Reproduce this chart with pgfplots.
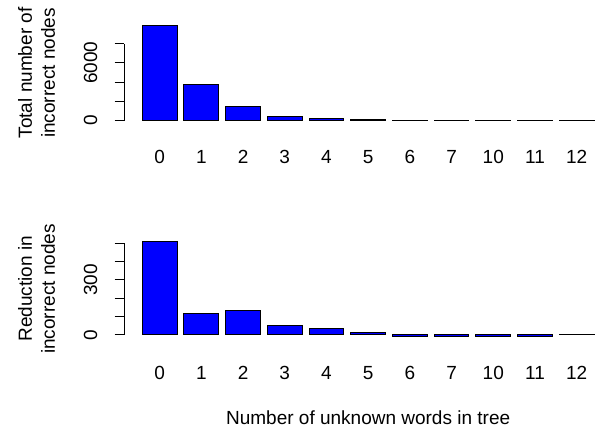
\documentclass[border=0pt]{standalone}
\usepackage{pgfplots}
\pgfplotsset{compat=1.18}
\usepackage{fontspec}
\setmainfont{Liberation Sans}
\begin{document}
\begin{tikzpicture}[font=\fontsize{19pt}{23pt}\selectfont]
\pgfplotsset{
  rbar/.style={
    scale only axis, width=487.9pt, height=103pt,
    xmin=-0.32, xmax=13.72,
    axis lines=left, axis line style={draw=none},
    tick align=outside, major tick length=9.5pt,
    tick style={black, line width=1pt},
    xtick style={draw=none},
    scaled y ticks=false,
    xtick={0.7,1.9,3.1,4.3,5.5,6.7,7.9,9.1,10.3,11.5,12.7},
    xticklabels={0,1,2,3,4,5,6,7,10,11,12},
    xticklabel style={anchor=center, font=\fontsize{19pt}{23pt}\selectfont},
    xticklabel shift=23pt,
    yticklabel style={rotate=90, anchor=center, font=\fontsize{19pt}{23pt}\selectfont},
    yticklabel shift=24pt,
    ylabel style={at={(axis description cs:-0.1797,0.5)}, anchor=center, align=center, font=\fontsize{19pt}{23pt}\selectfont},
    xlabel style={at={(axis description cs:0.5,0)}, anchor=center, yshift=-77.6pt, font=\fontsize{19pt}{23pt}\selectfont},
    ybar, bar width=1,
    clip=false,
  },
  rfill/.style={fill=blue, draw=black, line width=1pt},
}
\begin{axis}[rbar, at={(124.2pt,-21.4pt)}, anchor=north west,
  ymin=-396, ymax=10296,
  ytick={0,2000,4000,6000,8000}, yticklabels={0,,,6000,},
  ylabel={Total number of\\incorrect nodes}]
\addplot[rfill] coordinates {(0.7,9900) (1.9,3740) (3.1,1450) (4.3,380) (5.5,165) (6.7,90) (7.9,30) (9.1,45) (10.3,25) (11.5,25) (12.7,15)};
\draw[line width=1pt, black] (axis cs:-0.32,0) -- (axis cs:-0.32,8000);
\end{axis}
\begin{axis}[rbar, at={(124.2pt,-237.4pt)}, anchor=north west,
  ymin=-30.8, ymax=531.8,
  ytick={0,100,200,300,400,500}, yticklabels={0,,,300,,},
  ylabel={Reduction in\\incorrect nodes},
  xlabel={Number of unknown words in tree}]
\addplot[rfill] coordinates {(0.7,511) (1.9,117) (3.1,134) (4.3,52) (5.5,36) (6.7,15) (7.9,-10) (9.1,-10) (10.3,-10) (11.5,-10) (12.7,-1)};
\draw[line width=1pt, black] (axis cs:-0.32,0) -- (axis cs:-0.32,500);
\end{axis}
\pgfresetboundingbox
\path[use as bounding box] (0,0) rectangle (596pt,-430pt);
\end{tikzpicture}
\end{document}
